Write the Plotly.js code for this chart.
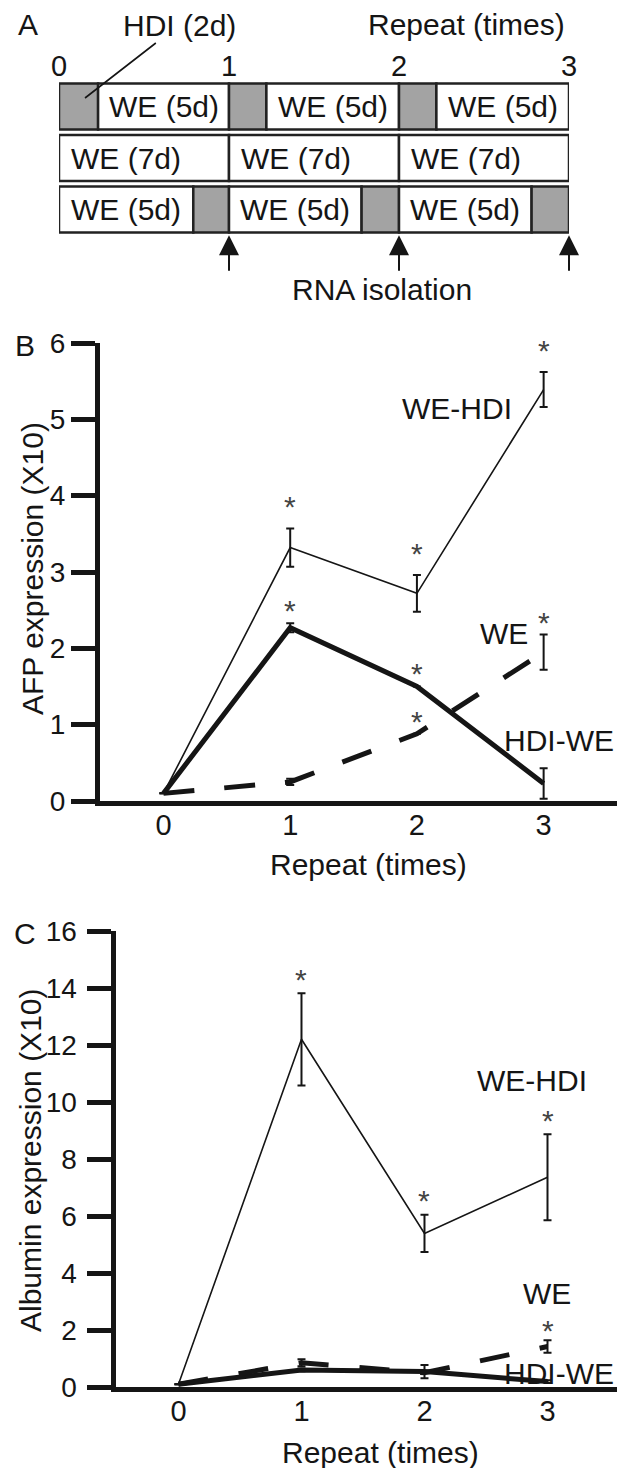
<!DOCTYPE html>
<html><head><meta charset="utf-8">
<script src="https://cdn.plot.ly/plotly-3.0.1.min.js"></script>
<style>html,body{margin:0;padding:0;background:#fff;} #chart{width:617px;height:1468px;}</style>
</head><body><div id="chart"></div>
<script>
// ---------------- DATA ----------------
const repeats = [0, 1, 2, 3];
const repeatLabels = ['0', '1', '2', '3'];

// Panel B: AFP expression (X10)
const afpWeHdi    = [0.1, 3.32, 2.72, 5.39];
const afpWeHdiErr = [0, 0.25, 0.24, 0.23];
const afpHdiWe    = [0.1, 2.27, 1.50, 0.23];
const afpHdiWeErr = [0, 0.06, 0, 0.20];
const afpWe       = [0.1, 0.25, 0.88, 1.95];
const afpWeErr    = [0, 0.04, 0, 0.23];
const afpSigWeHdi = [false, true, true, true];
const afpSigHdiWe = [false, true, true, false];
const afpSigWe    = [false, false, true, true];
const afpTicks    = [0, 1, 2, 3, 4, 5, 6];

// Panel C: Albumin expression (X10)
const albWeHdi    = [0.1, 12.2, 5.39, 7.36];
const albWeHdiErr = [0, 1.62, 0.65, 1.51];
const albHdiWe    = [0.1, 0.60, 0.54, 0.19];
const albHdiWeErr = [0, 0.05, 0.23, 0.05];
const albWe       = [0.1, 0.85, 0.50, 1.42];
const albWeErr    = [0, 0.12, 0, 0.22];
const albSigWeHdi = [false, true, true, true];
const albSigHdiWe = [false, false, false, false];
const albSigWe    = [false, false, false, true];
const albTicks    = [0, 2, 4, 6, 8, 10, 12, 14, 16];

// Panel A: schedule (segments in repeat units)
const scheduleTicks = [0, 1, 2, 3];
const rnaIsolation  = [1, 2, 3];
const rowWeHdi = [['HDI',0,0.23],['WE (5d)',0.23,1],['HDI',1,1.22],['WE (5d)',1.22,2],['HDI',2,2.22],['WE (5d)',2.22,3]];
const rowWe    = [['WE (7d)',0,1],['WE (7d)',1,2],['WE (7d)',2,3]];
const rowHdiWe = [['WE (5d)',0,0.79],['HDI',0.79,1],['WE (5d)',1,1.78],['HDI',1.78,2],['WE (5d)',2,2.78],['HDI',2.78,3]];
const scheduleRows = [rowWeHdi, rowWe, rowHdiWe];

// ---------------- STYLE / LAYOUT ----------------
const W = 617, H = 1468;
const px = p => p / W;
const py = p => 1 - p / H;
const FONT = 'Liberation Sans, Arial, Helvetica, sans-serif';
const INK = '#151515';
const GRAY = '#a3a3a3';

function lineTrace(xa, ya, y, err, lw, dash) {
  return {
    x: repeats, y: y, xaxis: xa, yaxis: ya, type: 'scatter', mode: 'lines',
    line: {color: INK, width: lw, dash: dash || 'solid'},
    error_y: {type: 'data', array: err, visible: true, thickness: 2, width: 4, color: INK},
    cliponaxis: false, hoverinfo: 'skip', showlegend: false
  };
}

const traces = [
  lineTrace('x', 'y', afpWeHdi, afpWeHdiErr, 1.6),
  lineTrace('x', 'y', afpHdiWe, afpHdiWeErr, 5),
  lineTrace('x', 'y', afpWe, afpWeErr, 5, '31px,30px'),
  lineTrace('x2', 'y2', albWeHdi, albWeHdiErr, 1.6),
  lineTrace('x2', 'y2', albHdiWe, albHdiWeErr, 5),
  lineTrace('x2', 'y2', albWe, albWeErr, 5, '30px,31px')
];

const annotations = [];
function txt(text, x, y, size, opts) {
  annotations.push(Object.assign({text: text, x: x, y: y, xref: 'paper', yref: 'paper',
    showarrow: false, font: {family: FONT, size: size, color: INK},
    xanchor: 'center', yanchor: 'middle'}, opts || {}));
}
function stars(xr, yr, vals, errs, sig, shift) {
  repeats.forEach((r, i) => {
    if (!sig[i]) return;
    annotations.push({text: '*', x: r, y: vals[i] + errs[i], xref: xr, yref: yr,
      showarrow: false, yshift: shift, font: {family: FONT, size: 30, color: '#444'},
      xanchor: 'center', yanchor: 'middle'});
  });
}

// Panel A texts
txt('A', px(28), py(25), 30);
txt('Repeat (times)', px(466), py(25), 30);
txt('RNA isolation', px(382), py(290), 30);
scheduleTicks.forEach(t => annotations.push({text: String(t), x: t, y: py(66), xref: 'x3', yref: 'paper',
  showarrow: false, font: {family: FONT, size: 29, color: INK}, xanchor: 'center', yanchor: 'middle'}));
annotations.push({text: 'HDI (2d)', x: rowWeHdi[0][1] + 0.153, y: -0.165, xref: 'x3', yref: 'y3',
  showarrow: true, arrowhead: 0, arrowwidth: 1.6, arrowcolor: INK, ax: 94, ay: -73,
  font: {family: FONT, size: 30, color: INK}});
rnaIsolation.forEach(t => annotations.push({text: '', x: t, y: 2.5, xref: 'x3', yref: 'y3',
  showarrow: true, arrowhead: 2, arrowsize: 2, arrowwidth: 2, arrowcolor: INK, ax: 0, ay: 37}));

const shapes = [];
scheduleRows.forEach((row, r) => {
  row.forEach(seg => {
    const isHdi = seg[0] === 'HDI';
    shapes.push({type: 'rect', xref: 'x3', yref: 'y3', x0: seg[1], x1: seg[2], y0: r - 0.445, y1: r + 0.445,
      fillcolor: isHdi ? GRAY : '#ffffff', line: {color: '#222', width: 2.5}, layer: 'above'});
    if (!isHdi) {
      const is7 = seg[0].indexOf('7d') >= 0;
      annotations.push({text: seg[0], x: is7 ? seg[1] : (seg[1] + seg[2]) / 2, y: r, xref: 'x3', yref: 'y3',
        showarrow: false, xanchor: is7 ? 'left' : 'center', xshift: is7 ? 10 : 0, yanchor: 'middle',
        font: {family: FONT, size: 30, color: INK}});
    }
  });
});

// Panel B texts
txt('B', px(25), py(345), 30);
txt('AFP expression (X10)', px(32), py(569), 30, {textangle: -90});
txt('Repeat (times)', px(368), py(865), 30);
txt('WE-HDI', px(457), py(408), 30);
txt('WE', px(504), py(633), 30);
txt('HDI-WE', px(502), py(740), 30, {xanchor: 'left'});
stars('x', 'y', afpWeHdi, afpWeHdiErr, afpSigWeHdi, 22);
stars('x', 'y', afpHdiWe, afpHdiWeErr, afpSigHdiWe, 13);
stars('x', 'y', afpWe, afpWeErr, afpSigWe, 12);

// Panel C texts
txt('C', px(25), py(933), 30);
txt('Albumin expression (X10)', px(30), py(1160), 30, {textangle: -90});
txt('Repeat (times)', px(380), py(1452), 30);
txt('WE-HDI', px(532), py(1080), 30);
txt('WE', px(547), py(1293), 30);
txt('HDI-WE', px(502), py(1373), 30, {xanchor: 'left'});
stars('x2', 'y2', albWeHdi, albWeHdiErr, albSigWeHdi, 14);
stars('x2', 'y2', albHdiWe, albHdiWeErr, albSigHdiWe, 13);
stars('x2', 'y2', albWe, albWeErr, albSigWe, 10);

const xCommon = {showline: true, linewidth: 5, linecolor: INK, ticks: '', showgrid: false, zeroline: false,
  tickvals: repeats, ticktext: repeatLabels, tickfont: {family: FONT, size: 29, color: INK},
  ticklabelstandoff: -6, fixedrange: true};
const yCommon = {showline: true, linewidth: 5, linecolor: INK, ticks: 'outside', ticklen: 24, tickwidth: 5,
  tickcolor: INK, showgrid: false, zeroline: false, tickfont: {family: FONT, size: 28, color: INK}, fixedrange: true};

const layout = {
  width: W, height: H, margin: {l: 0, r: 0, t: 0, b: 0},
  paper_bgcolor: '#fff', plot_bgcolor: 'rgba(0,0,0,0)', showlegend: false,
  font: {family: FONT, color: INK},
  xaxis: Object.assign({}, xCommon, {domain: [px(100), 1], range: [-0.501, 3.579], anchor: 'y'}),
  yaxis: Object.assign({}, yCommon, {domain: [py(801), py(343)], range: [0, 6], tickvals: afpTicks, anchor: 'x'}),
  xaxis2: Object.assign({}, xCommon, {domain: [px(115.5), 1], range: [-0.512, 3.565], anchor: 'y2'}),
  yaxis2: Object.assign({}, yCommon, {domain: [py(1387), py(931)], range: [0, 16], tickvals: albTicks, anchor: 'x2', ticklabelstandoff: 4}),
  xaxis3: {domain: [px(59), px(569)], range: [0, 3], visible: false, anchor: 'y3', fixedrange: true},
  yaxis3: {domain: [py(286.75), py(29.25)], range: [3.5, -1.5], visible: false, anchor: 'x3', fixedrange: true},
  annotations: annotations,
  shapes: shapes
};

Plotly.newPlot('chart', traces, layout, {staticPlot: true, displayModeBar: false});
</script>
</body></html>
